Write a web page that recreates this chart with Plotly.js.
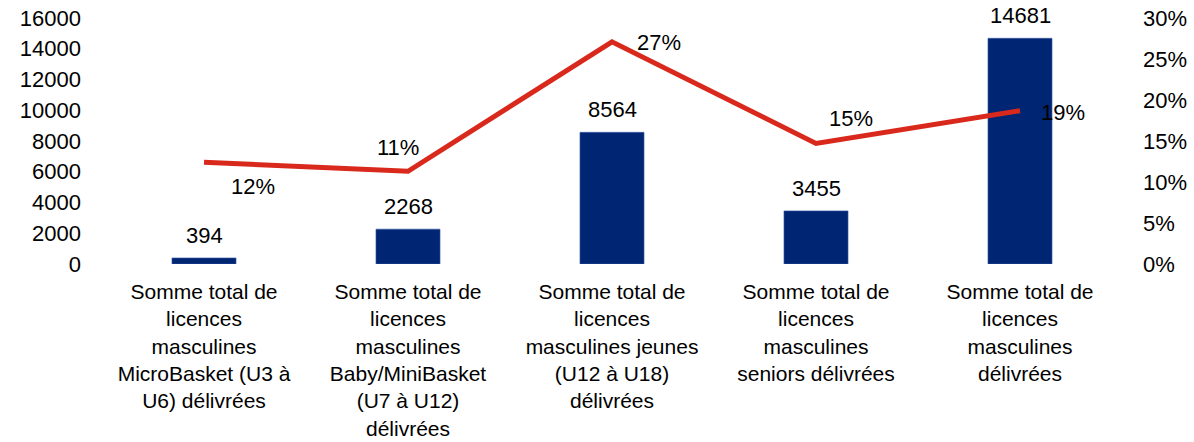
<!DOCTYPE html>
<html>
<head>
<meta charset="utf-8">
<script src="https://cdn.plot.ly/plotly-3.0.1.min.js"></script>
<style>html,body{margin:0;padding:0;background:#fff;}#chart{width:1194px;height:442px;}</style>
</head>
<body>
<div id="chart"></div>
<script>
const categories = [
  "Somme total de<br>licences<br>masculines<br>MicroBasket (U3 à<br>U6) délivrées",
  "Somme total de<br>licences<br>masculines<br>Baby/MiniBasket<br>(U7 à U12)<br>délivrées",
  "Somme total de<br>licences<br>masculines jeunes<br>(U12 à U18)<br>délivrées",
  "Somme total de<br>licences<br>masculines<br>seniors délivrées",
  "Somme total de<br>licences<br>masculines<br>délivrées"
];
const licences = [394, 2268, 8564, 3455, 14681];
const shares = [12.4, 11.3, 27.1, 14.7, 18.7];
const shareLabels = ["12%", "11%", "27%", "15%", "19%"];
const leftTicks = [0, 2000, 4000, 6000, 8000, 10000, 12000, 14000, 16000];
const rightTicks = [0, 5, 10, 15, 20, 25, 30];
const rightTickLabels = ["0%", "5%", "10%", "15%", "20%", "25%", "30%"];

// label offsets (pixels) for the percentage labels
const pctOffsets = [[49, -24], [-10, 24], [47, -1], [35, 25], [43, -2]];

const FONT = "Liberation Sans, Arial, sans-serif";
const FS = 22;

const annotations = [];
categories.forEach((c, i) => {
  annotations.push({
    x: c, y: licences[i], xref: 'x', yref: 'y',
    text: String(licences[i]), showarrow: false,
    yanchor: 'bottom', yshift: 8,
    font: {family: FONT, size: FS, color: '#000'}
  });
  annotations.push({
    x: c, y: shares[i], xref: 'x', yref: 'y2',
    text: shareLabels[i], showarrow: false,
    xshift: pctOffsets[i][0], yshift: pctOffsets[i][1],
    font: {family: FONT, size: FS, color: '#000'}
  });
});

const data = [
  {
    type: 'bar', x: categories, y: licences, yaxis: 'y',
    marker: {color: '#002673', line: {color: '#3a5ca8', width: 0.6}},
    hoverinfo: 'none'
  },
  {
    type: 'scatter', mode: 'lines', x: categories, y: shares, yaxis: 'y2',
    line: {color: '#D9291C', width: 5},
    hoverinfo: 'none'
  }
];

const layout = {
  width: 1194, height: 442,
  margin: {l: 102, r: 72, t: 18, b: 178},
  paper_bgcolor: '#fff', plot_bgcolor: '#fff',
  showlegend: false,
  bargap: 0.686,
  font: {family: FONT, size: FS, color: '#000'},
  xaxis: {
    showgrid: false, zeroline: false, showline: false,
    ticks: '', tickfont: {family: FONT, size: 21, color: '#000'},
    tickangle: 0, ticklabelstandoff: 13
  },
  yaxis: {
    range: [0, 16000], tickmode: 'array', tickvals: leftTicks,
    ticktext: leftTicks.map(String),
    showgrid: false, zeroline: false, showline: false,
    ticklabelstandoff: 20,
    tickfont: {family: FONT, size: FS, color: '#000'}
  },
  yaxis2: {
    range: [0, 30], tickmode: 'array', tickvals: rightTicks, ticktext: rightTickLabels,
    overlaying: 'y', side: 'right',
    showgrid: false, zeroline: false, showline: false,
    ticklabelstandoff: 20,
    tickfont: {family: FONT, size: FS, color: '#000'}
  },
  annotations: annotations
};

Plotly.newPlot('chart', data, layout, {displayModeBar: false, staticPlot: true});
</script>
</body>
</html>
